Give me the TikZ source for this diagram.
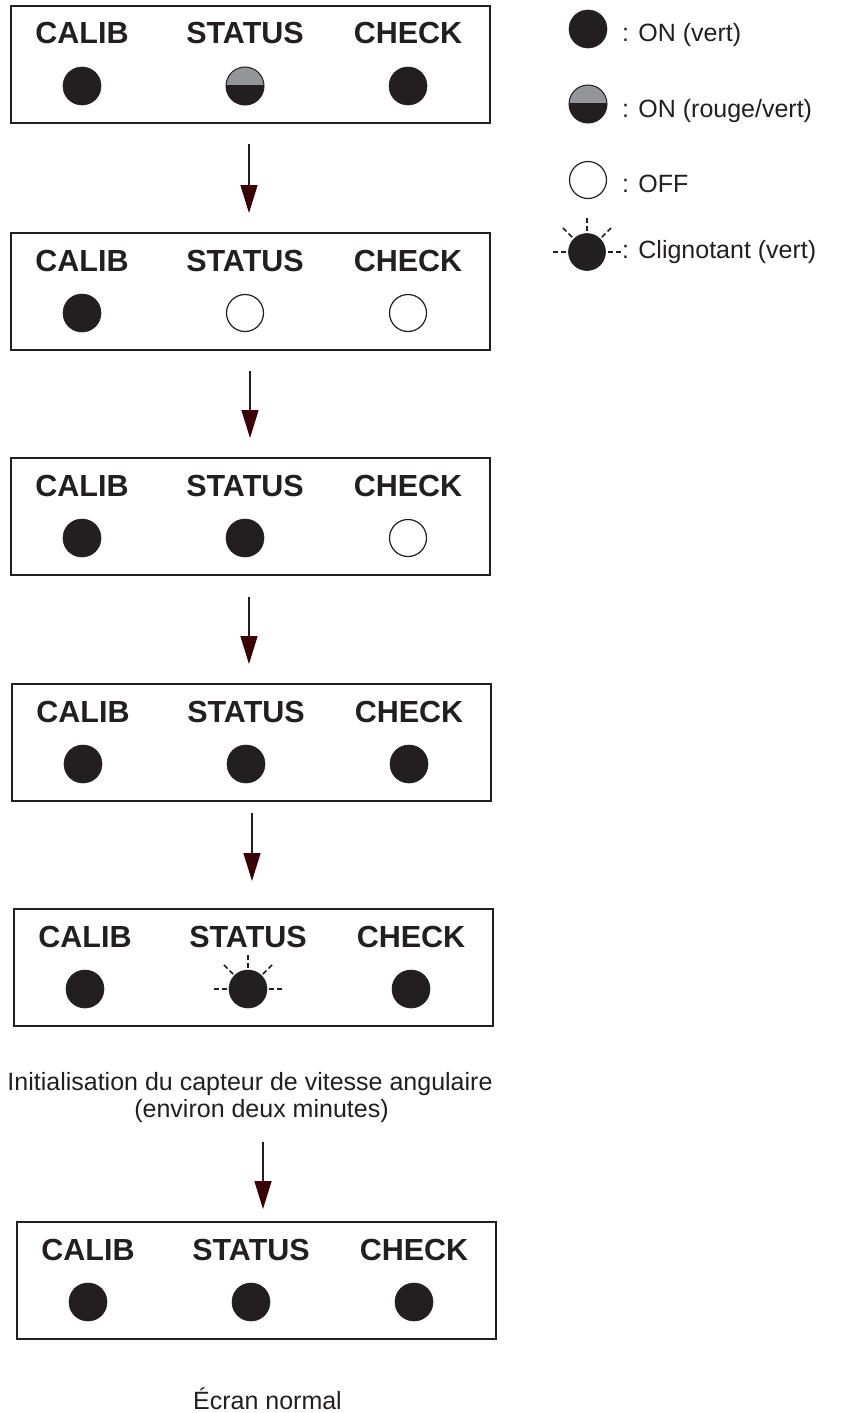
\documentclass[tikz,border=0pt]{standalone}
\usepackage{fontspec}
\setmainfont{Liberation Sans}
\usetikzlibrary{arrows.meta,calc}
\definecolor{ink}{HTML}{231F20}
\definecolor{ledgray}{HTML}{939598}
\definecolor{headred}{HTML}{3A0005}
\tikzset{
  panel/.style={draw=ink, line width=2.2pt, minimum width=479pt, minimum height=117pt, inner sep=0pt, anchor=north west},
  lbl/.style={font=\bfseries\fontsize{30.5}{36}\selectfont, text=ink, anchor=base, inner sep=0pt},
  txt/.style={font=\fontsize{25}{30}\selectfont, text=ink, inner sep=0pt},
  ledon/.style={circle, fill=ink, draw=ink, line width=0.6pt, minimum size=38pt, inner sep=0pt},
  ledoff/.style={circle, fill=white, draw=ink, line width=1.2pt, minimum size=37pt, inner sep=0pt},
  ledhalf/.style={circle, fill=ink, draw=ink, line width=1pt, minimum size=38pt, inner sep=0pt,
    path picture={\fill[ledgray] (path picture bounding box.west) rectangle (path picture bounding box.north east);
      \draw[ink, line width=1.2pt] (path picture bounding box.west) -- (path picture bounding box.east);}},
  ledblink/.style={ledon},
  ray/.style={draw=ink, line width=1.6pt, dash pattern=on 5pt off 3pt},
  flow/.style={draw=ink, line width=1.4pt, -{Triangle[width=17pt,length=28pt,color=headred]}}
}
\newcommand\ledpanel[6]{%
  \node[panel] (#1) at (#2,#3) {};
  \node[lbl] (#1-cl) at ({#2+72},{#3+39}) {CALIB};
  \node[lbl] (#1-st) at ({#2+235},{#3+39}) {STATUS};
  \node[lbl] (#1-ch) at ({#2+398},{#3+39}) {CHECK};
  \node[#4] (#1-l1) at ({#2+72},{#3+81}) {};
  \node[#5] (#1-l2) at ({#2+235},{#3+81}) {};
  \node[#6] (#1-l3) at ({#2+398},{#3+81}) {};
}
\newcommand\blinkrays[1]{%
  \foreach \a in {0,45,90,135,180}
    \draw[ray] ([shift={(\a:21pt)}]#1.center) -- ([shift={(\a:34pt)}]#1.center);
}
\begin{document}
\begin{tikzpicture}[x=1pt,y=-1pt]
\useasboundingbox (0,0) rectangle (845,1413);
\fill[white] (0,0) rectangle (845,1413);

% panels
\ledpanel{p1}{10}{5}{ledon}{ledhalf}{ledon}
\ledpanel{p2}{10}{232}{ledon}{ledoff}{ledoff}
\ledpanel{p3}{10}{457}{ledon}{ledon}{ledoff}
\ledpanel{p4}{11}{683}{ledon}{ledon}{ledon}
\ledpanel{p5}{13}{908}{ledon}{ledblink}{ledon}
\blinkrays{p5-l2}
\ledpanel{p6}{16}{1221}{ledon}{ledon}{ledon}

% arrows
\coordinate (a1s) at (249,144); \coordinate (a1e) at (249,213);
\coordinate (a2s) at (250,371); \coordinate (a2e) at (250,438);
\coordinate (a3s) at (249,597); \coordinate (a3e) at (249,664);
\coordinate (a4s) at (252,813); \coordinate (a4e) at (252,881);
\coordinate (a5s) at (263,1142); \coordinate (a5e) at (263,1209);
\draw[flow] (a1s) -- (a1e);
\draw[flow] (a2s) -- (a2e);
\draw[flow] (a3s) -- (a3e);
\draw[flow] (a4s) -- (a4e);
\draw[flow] (a5s) -- (a5e);

% texts
\node[txt, anchor=base] (init1) at (250,1090) {Initialisation du capteur de vitesse angulaire};
\node[txt, anchor=base] (init2) at (261.5,1117) {(environ deux minutes)};
\node[txt, anchor=base] (normal) at (267.5,1409) {Écran normal};

% legend
\node[ledon] (k1) at (588,29) {};
\node[txt, anchor=base west] (k1t) at (622,42) {: ON (vert)};
\node[ledhalf] (k2) at (588,104) {};
\node[txt, anchor=base west] (k2t) at (622,117) {: ON (rouge/vert)};
\node[ledoff] (k3) at (588,180) {};
\node[txt, anchor=base west] (k3t) at (622,192) {: OFF};
\node[ledblink, minimum size=37pt] (k4) at (587,252) {};
\blinkrays{k4}
\node[txt, anchor=base west] (k4t) at (622,258) {: Clignotant (vert)};
\end{tikzpicture}
\end{document}
